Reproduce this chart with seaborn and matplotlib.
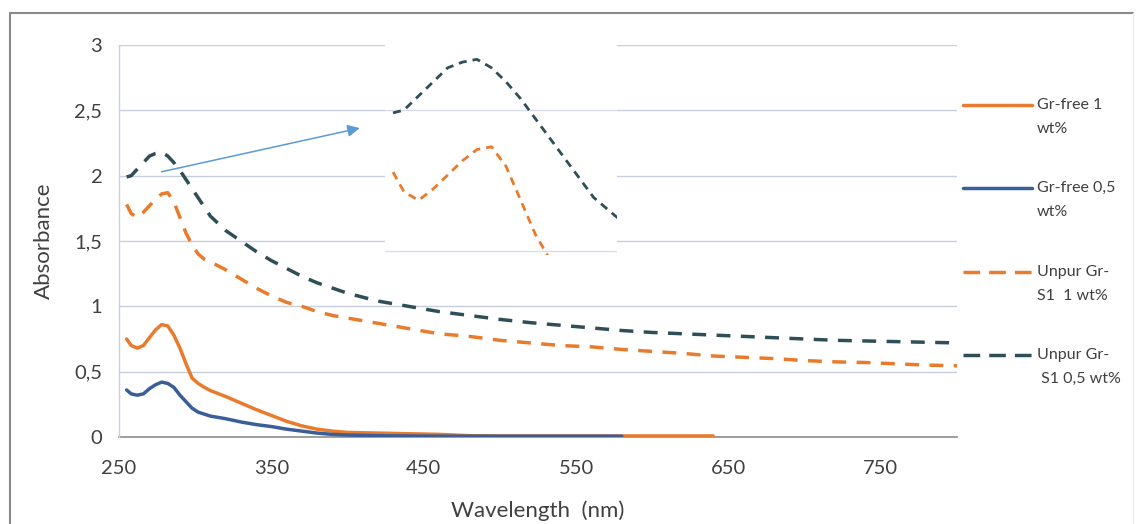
import numpy as np
import pandas as pd
import matplotlib
matplotlib.use("Agg")
import matplotlib.pyplot as plt
import seaborn as sns
from matplotlib.lines import Line2D

# ---------------- data ----------------
wavelength = [255, 258, 262, 266, 270, 274, 278, 282, 286, 290, 294, 298, 302, 306, 310,
              320, 330, 340, 350, 360, 370, 380, 390, 400, 420, 440, 460, 480, 500, 520,
              540, 560, 580, 600, 620, 640, 660, 680, 700, 720, 740, 760, 780, 800]

grfree_1 = [0.75, 0.70, 0.68, 0.70, 0.76, 0.82, 0.86, 0.85, 0.78, 0.68, 0.56, 0.45, 0.41, 0.38, 0.355,
            0.31, 0.26, 0.21, 0.165, 0.12, 0.085, 0.06, 0.045, 0.035, 0.03, 0.025, 0.02, 0.01, 0.008, 0.008,
            0.008, 0.008, 0.008, 0.008, 0.008, 0.008, None, None, None, None, None, None, None, None]

grfree_05 = [0.36, 0.33, 0.32, 0.33, 0.37, 0.40, 0.42, 0.41, 0.38, 0.32, 0.27, 0.22, 0.19, 0.175, 0.16,
             0.14, 0.115, 0.095, 0.08, 0.06, 0.045, 0.03, 0.02, 0.015, 0.01, 0.008, 0.006, 0.006, 0.006, 0.006,
             0.006, 0.006, 0.006, None, None, None, None, None, None, None, None, None, None, None]

unpur_1 = [1.78, 1.71, 1.68, 1.72, 1.77, 1.82, 1.86, 1.87, 1.80, 1.68, 1.56, 1.47, 1.40, 1.36, 1.34,
           1.28, 1.21, 1.14, 1.08, 1.03, 1.00, 0.96, 0.93, 0.91, 0.87, 0.83, 0.79, 0.77, 0.74, 0.72,
           0.70, 0.69, 0.67, 0.655, 0.64, 0.62, 0.61, 0.60, 0.585, 0.575, 0.57, 0.56, 0.55, 0.545]

unpur_05 = [1.99, 2.00, 2.05, 2.10, 2.15, 2.17, 2.18, 2.15, 2.10, 2.04, 1.97, 1.90, 1.83, 1.76, 1.69,
            1.58, 1.50, 1.42, 1.35, 1.29, 1.23, 1.18, 1.14, 1.10, 1.04, 1.00, 0.96, 0.93, 0.90, 0.875,
            0.855, 0.835, 0.815, 0.80, 0.79, 0.78, 0.77, 0.76, 0.75, 0.74, 0.735, 0.73, 0.725, 0.72]

labels = ["Gr-free 1\nwt%", "Gr-free 0,5\nwt%", "Unpur Gr-\nS1  1 wt%", "Unpur Gr-\n S1 0,5 wt%"]
x_ticks = [250, 350, 450, 550, 650, 750]
y_ticks = [0, 0.5, 1, 1.5, 2, 2.5, 3]
y_ticklabels = ["0", "0,5", "1", "1,5", "2", "2,5", "3"]

df = pd.DataFrame({
    "wl": wavelength,
    "gf1": pd.to_numeric(pd.Series(grfree_1), errors="coerce"),
    "gf05": pd.to_numeric(pd.Series(grfree_05), errors="coerce"),
    "u1": unpur_1,
    "u05": unpur_05,
})

# ---------------- style ----------------
sns.set_theme(style="white")
plt.rcParams["font.family"] = ["Lato", "DejaVu Sans"]
plt.rcParams["lines.scale_dashes"] = False

c_orange = "#E87B2C"
c_blue = "#3A5E98"
c_dark = "#2F4F58"
grid_c = "#C8CEDD"
axis_c = "#8C8C8C"
txt_c = "#404040"
DASH = (10.0, 7.5)
DASH_IN = (5.8, 4.3)
DASH_LEG = (12.0, 6.5)

W, H = 1138, 524
fig = plt.figure(figsize=(W / 100, H / 100), dpi=100)
fig.patch.set_facecolor("white")

ax = fig.add_axes([119 / W, 1 - 437 / H, (957 - 119) / W, (437 - 45) / H])
ax.set_facecolor("white")

lw = 2.5
sns.lineplot(data=df, x="wl", y="gf1", ax=ax, color=c_orange, lw=lw, zorder=3)
sns.lineplot(data=df, x="wl", y="gf05", ax=ax, color=c_blue, lw=lw, zorder=4)
sns.lineplot(data=df, x="wl", y="u1", ax=ax, color=c_orange, lw=lw, zorder=3)
ax.lines[-1].set_dashes(DASH)
sns.lineplot(data=df, x="wl", y="u05", ax=ax, color=c_dark, lw=lw, zorder=3)
ax.lines[-1].set_dashes(DASH)

ax.set_xlim(250, 800)
ax.set_ylim(0, 3)
ax.set_xticks(x_ticks)
ax.set_xticklabels([str(v) for v in x_ticks])
ax.set_yticks(y_ticks)
ax.set_yticklabels(y_ticklabels)
ax.yaxis.grid(True, color=grid_c, lw=1.0)
ax.xaxis.grid(False)
for s in ["top", "right"]:
    ax.spines[s].set_visible(False)
ax.spines["left"].set_color(grid_c)
ax.spines["left"].set_linewidth(1.0)
ax.spines["bottom"].set_color(axis_c)
ax.spines["bottom"].set_linewidth(1.2)
ax.spines["bottom"].set_zorder(2)
ax.tick_params(axis="x", direction="out", length=4.5, width=1.0, color=axis_c,
               labelsize=14.5, pad=12, labelcolor=txt_c)
ax.tick_params(axis="y", direction="out", length=6, width=1.0, color=grid_c,
               labelsize=14.5, pad=6, labelcolor=txt_c)
ax.set_xlabel("Wavelength  (nm)", fontsize=16, color=txt_c, labelpad=17)
ax.set_ylabel("Absorbance", fontsize=16, color=txt_c, labelpad=15)

# arrow
ax.annotate("", xy=(408, 2.364), xytext=(278, 2.03),
            arrowprops=dict(arrowstyle="-|>", color="#5B9BD5", lw=1.1,
                            mutation_scale=18, shrinkA=0, shrinkB=0), zorder=6)

# inset (zoom on the peak region)
axin = fig.add_axes([385 / W, 1 - 255 / H, (617 - 385) / W, (255 - 30) / H])
axin.set_facecolor("white")
axin.set_zorder(5)
sns.lineplot(data=df, x="wl", y="u1", ax=axin, color=c_orange, lw=2.0)
axin.lines[-1].set_dashes(DASH_IN)
sns.lineplot(data=df, x="wl", y="u05", ax=axin, color=c_dark, lw=2.0)
axin.lines[-1].set_dashes(DASH_IN)
axin.set_xlim(252.8, 316.4)
axin.set_ylim(1.486, 2.284)
axin.set_yticks([1.5, 2.0])
axin.set_xticks([])
axin.yaxis.grid(True, color="#D9DCEB", lw=1.0)
axin.tick_params(axis="y", length=0, labelleft=False)
axin.set_xlabel("")
axin.set_ylabel("")
for s in axin.spines.values():
    s.set_visible(False)

# legend
colors = [c_orange, c_blue, c_orange, c_dark]
dashed = [False, False, True, True]
leg_y = [105, 188, 272, 355]
for col, dsh, lab, yy in zip(colors, dashed, labels, leg_y):
    yf = 1 - yy / H
    line = Line2D([963 / W, 1032 / W], [yf, yf], transform=fig.transFigure,
                  color=col, lw=lw)
    if dsh:
        line.set_dashes(DASH_LEG)
    fig.add_artist(line)
    first, second = lab.split("\n")
    fig.text(1037 / W, yf, first, fontsize=11.5, color=txt_c, va="center", ha="left")
    fig.text(1037 / W, yf - 24 / H, second, fontsize=11.5, color=txt_c, va="center", ha="left")

# outer border
fig.add_artist(Line2D([10 / W, 1133 / W], [1 - 13 / H, 1 - 13 / H], transform=fig.transFigure,
                      color="#8A8A8A", lw=1.5))
fig.add_artist(Line2D([10 / W, 10 / W], [1 - 13 / H, 0], transform=fig.transFigure,
                      color="#8A8A8A", lw=1.5))
fig.add_artist(Line2D([1133 / W, 1133 / W], [1 - 13 / H, 0], transform=fig.transFigure,
                      color="#EEEEEE", lw=1.0))

fig.savefig("out.png", dpi=100, facecolor="white")
